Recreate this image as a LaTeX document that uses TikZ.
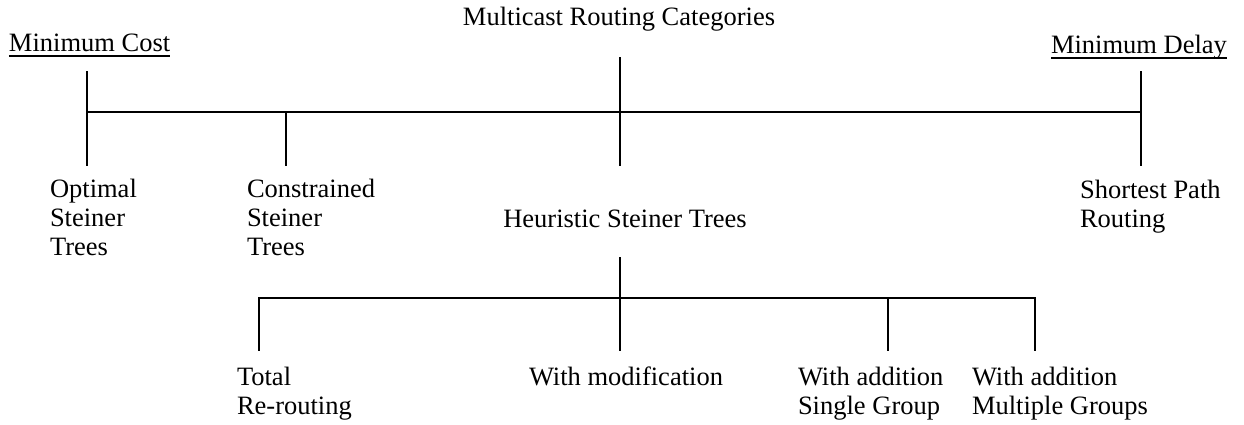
\documentclass[tikz,border=0pt]{standalone}
\usepackage{fontspec}
\setmainfont{Liberation Serif}
\newcommand\myul[1]{\setbox0\hbox{#1}\rlap{\rule[-5pt]{\wd0}{1.5pt}}\box0}
\begin{document}
\begin{tikzpicture}[x=1pt,y=-1pt,
  every node/.style={inner sep=0pt,outer sep=0pt,font=\fontsize{26.5}{29}\selectfont},
  lbl/.style={anchor=base west},
  clbl/.style={anchor=base},
  branch/.style={line width=1.7pt,line cap=rect}]
\useasboundingbox (0,0) rectangle (1244,425);
% texts
\node[clbl] (title) at (619,26) {Multicast Routing Categories};
\node[lbl] (mincost) at (9,52) {\myul{Minimum Cost}};
\node[lbl] (mindelay) at (1051,54) {\myul{Minimum Delay}};
\node[lbl] (opt) at (50,197) {\begin{tabular}[t]{@{}l@{}}Optimal\\Steiner\\Trees\end{tabular}};
\node[lbl] (con) at (247,197) {\begin{tabular}[t]{@{}l@{}}Constrained\\Steiner\\Trees\end{tabular}};
\node[clbl] (heu) at (625,227) {Heuristic Steiner Trees};
\node[lbl] (spr) at (1080,198) {\begin{tabular}[t]{@{}l@{}}Shortest Path\\Routing\end{tabular}};
\node[lbl] (tot) at (237,385) {\begin{tabular}[t]{@{}l@{}}Total\\Re-routing\end{tabular}};
\node[clbl] (mod) at (626,385) {With modification};
\node[lbl] (single) at (798,385) {\begin{tabular}[t]{@{}l@{}}With addition\\Single Group\end{tabular}};
\node[lbl] (multi) at (972,385) {\begin{tabular}[t]{@{}l@{}}With addition\\Multiple Groups\end{tabular}};
% junction points
\coordinate (rootTop) at (620,58);
\coordinate (rootBot) at (620,165);
\coordinate (Lt) at (87,72);
\coordinate (Lb) at (87,165);
\coordinate (Rt) at (1141,72);
\coordinate (Rb) at (1141,165);
\coordinate (Cj) at (286,112);
\coordinate (Cb) at (286,165);
\coordinate (hTop) at (620,258);
\coordinate (hBot) at (620,350);
\coordinate (B1) at (259,298);
\coordinate (B1e) at (259,350);
\coordinate (B3) at (888,298);
\coordinate (B3e) at (888,350);
\coordinate (B4) at (1035,298);
\coordinate (B4e) at (1035,350);
% upper tree
\draw[branch] (rootTop) -- (rootBot);
\draw[branch] (Lt) -- (Lb);
\draw[branch] (Rt) -- (Rb);
\draw[branch] (Lt |- Cj) -- (Rt |- Cj);
\draw[branch] (Cj) -- (Cb);
% lower tree
\draw[branch] (hTop) -- (hBot);
\draw[branch] (B1e) -- (B1) -- (B4) -- (B4e);
\draw[branch] (B3) -- (B3e);
\end{tikzpicture}
\end{document}
